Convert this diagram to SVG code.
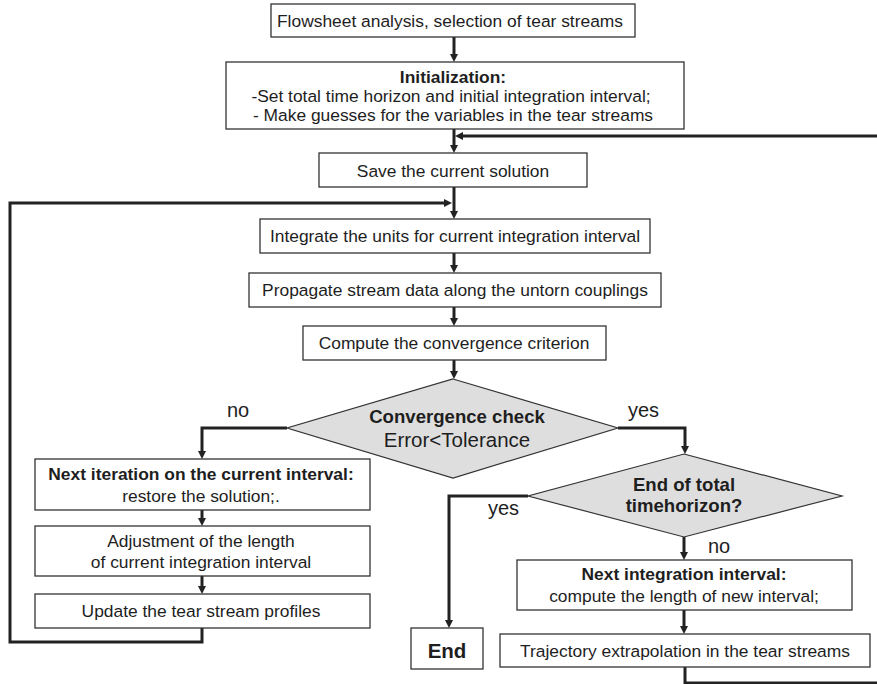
<svg xmlns="http://www.w3.org/2000/svg" width="877" height="684" viewBox="0 0 877 684">
<style>
.box{fill:#fff;stroke:#333;stroke-width:1.3}
.dia{fill:#dedede;stroke:#333;stroke-width:1.2}
.t{font-family:"Liberation Sans",Arial,sans-serif;font-size:17.4px;fill:#1e1e1e;text-anchor:middle}
.b{font-weight:bold}
.dt{font-family:"Liberation Sans",Arial,sans-serif;fill:#1e1e1e;text-anchor:middle}
.lbl{font-family:"Liberation Sans",Arial,sans-serif;font-size:20px;fill:#1e1e1e}
.c{fill:none;stroke:#222;stroke-width:3}
.ca{fill:none;stroke:#222;stroke-width:3;marker-end:url(#ah)}
</style>
<defs>
<marker id="ah" markerUnits="userSpaceOnUse" viewBox="0 0 8 8" markerWidth="8" markerHeight="8" refX="2" refY="4" orient="auto">
<path d="M0,0 L8,4 L0,8 z" fill="#222"/>
</marker>
</defs>
<rect width="877" height="684" fill="#fff"/>
<g id="connectors">
<path class="ca" d="M454,37 V56"/>
<path class="ca" d="M454,129 V147"/>
<path class="ca" d="M877,136 H461"/>
<path class="ca" d="M454,187 V213"/>
<path class="ca" d="M202,628 V642 H10 V203 H446"/>
<path class="ca" d="M454,253 V267"/>
<path class="ca" d="M454,307 V320"/>
<path class="ca" d="M454,360 V373"/>
<path class="ca" d="M287,428 H202 V453"/>
<path class="ca" d="M618,428 H685 V448"/>
<path class="ca" d="M202,510 V520"/>
<path class="ca" d="M202,576 V588"/>
<path class="ca" d="M528,496 H449 V622"/>
<path class="ca" d="M684,537 V554"/>
<path class="ca" d="M684,610 V628"/>
<path class="c" d="M685,667 V683 H877"/>
</g>
<g id="labels">
<text class="lbl" x="227" y="417">no</text>
<text class="lbl" x="628" y="417">yes</text>
<text class="lbl" x="488" y="515">yes</text>
<text class="lbl" x="708" y="553">no</text>
</g>
<g id="n1">
<rect class="box" x="271" y="4" width="364" height="33"/>
<text class="t" x="450" y="27">Flowsheet analysis, selection of tear streams</text>
</g>
<g id="n2">
<rect class="box" x="226" y="62" width="458" height="67"/>
<text class="t b" x="453" y="83">Initialization:</text>
<text class="t" x="451" y="102">-Set total time horizon and initial integration interval;</text>
<text class="t" x="453" y="121">- Make guesses for the variables in the tear streams</text>
</g>
<g id="n3">
<rect class="box" x="319" y="153" width="268" height="34"/>
<text class="t" x="453" y="177">Save the current solution</text>
</g>
<g id="n4">
<rect class="box" x="260" y="219" width="390" height="34"/>
<text class="t" x="455" y="242">Integrate the units for current integration interval</text>
</g>
<g id="n5">
<rect class="box" x="249" y="273" width="412" height="34"/>
<text class="t" x="455" y="296">Propagate stream data along the untorn couplings</text>
</g>
<g id="n6">
<rect class="box" x="303" y="326" width="303" height="34"/>
<text class="t" x="454" y="349">Compute the convergence criterion</text>
</g>
<g id="d1">
<polygon class="dia" points="453,379 618,428 453,478 287,428"/>
<text class="dt b" x="457" y="423" font-size="18.6">Convergence check</text>
<text class="dt" x="457" y="447" font-size="20.5">Error&lt;Tolerance</text>
</g>
<g id="n7">
<rect class="box" x="35" y="459" width="335" height="51"/>
<text class="t b" x="201" y="480">Next iteration on the current interval:</text>
<text class="t" x="201" y="502">restore the solution;.</text>
</g>
<g id="n8">
<rect class="box" x="35" y="526" width="335" height="50"/>
<text class="t" x="201" y="547">Adjustment of the length</text>
<text class="t" x="201" y="568">of current integration interval</text>
</g>
<g id="n9">
<rect class="box" x="35" y="594" width="335" height="34"/>
<text class="t" x="201" y="617">Update the tear stream profiles</text>
</g>
<g id="d2">
<polygon class="dia" points="684,454 842,496 684,537 528,496"/>
<text class="dt b" x="684" y="491" font-size="18.6">End of total</text>
<text class="dt b" x="684" y="512" font-size="18.6">timehorizon?</text>
</g>
<g id="n10">
<rect class="box" x="517" y="560" width="335" height="50"/>
<text class="t b" x="684" y="580">Next integration interval:</text>
<text class="t" x="684" y="602">compute the length of new interval;</text>
</g>
<g id="n11">
<rect class="box" x="500" y="634" width="370" height="33"/>
<text class="t" x="685" y="657">Trajectory extrapolation in the tear streams</text>
</g>
<g id="n12">
<rect class="box" x="411" y="628" width="72" height="41"/>
<text class="dt b" x="447" y="658" font-size="20.5">End</text>
</g>
</svg>
